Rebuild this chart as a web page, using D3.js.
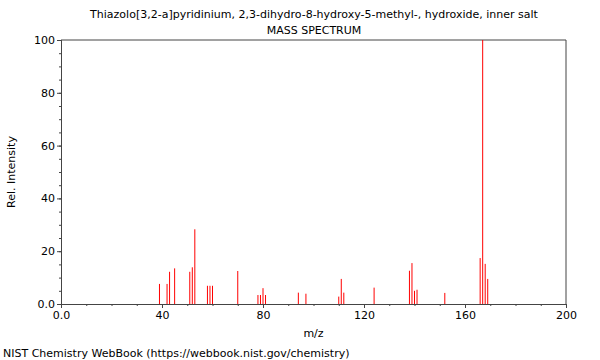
<!DOCTYPE html>
<html>
<head>
<meta charset="utf-8">
<script src="https://cdn.jsdelivr.net/npm/d3@7"></script>
<style>
  body { margin: 0; background: #fff; }
  text { font-family: "DejaVu Sans", sans-serif; fill: #000; }
</style>
</head>
<body>
<div id="chart"></div>
<script>
// peaks
var mz = [39, 42, 43, 45, 51, 52, 53, 58, 59, 60, 70, 78, 79, 80, 81,
  94, 97, 110, 111, 112, 124, 138, 139, 140, 141, 152, 166, 167, 168, 169];
var intensity = [7.6, 7.6, 12.2, 13.5, 12.2, 13.9, 28.3, 6.9, 6.9, 6.9, 12.5, 3.4, 3.4, 6.0, 3.4,
  4.3, 3.9, 2.8, 9.5, 4.3, 6.2, 12.6, 15.5, 5.0, 5.4, 4.2, 17.4, 100, 15.2, 9.5];
var xTicks = [0, 40, 80, 120, 160, 200];
var xTickLabels = ["0.0", "40", "80", "120", "160", "200"];
var yTicks = [0, 20, 40, 60, 80, 100];
var yTickLabels = ["0.0", "20", "40", "60", "80", "100"];

(function() {
  var width = 600,
    height = 360;
  var margin = {left: 61, right: 34, top: 40, bottom: 56};

  var svg = d3.select("#chart")
    .append("svg")
    .attr("width", width)
    .attr("height", height)

  var x = d3.scaleLinear().domain([0, 200]).range([margin.left, width - margin.right])
  var y = d3.scaleLinear().domain([0, 100]).range([height - margin.bottom, margin.top])

  var axisColor = "#444";

  // minor ticks
  var xAxisMinor = d3.axisBottom(x).tickValues(d3.range(0, 201, 10)).tickSize(2).tickFormat("")
  var yAxisMinor = d3.axisLeft(y).tickValues(d3.range(0, 101, 5)).tickSize(2).tickFormat("")

  svg.append("g")
    .attr("transform", "translate(0," + y(0) + ")")
    .call(xAxisMinor)
  svg.append("g")
    .attr("transform", "translate(" + x(0) + ",0)")
    .call(yAxisMinor)

  var xAxis = d3.axisBottom(x).tickValues(xTicks).tickSize(4).tickPadding(3)
    .tickFormat(function(d, i) { return xTickLabels[i]; })
  var yAxis = d3.axisLeft(y).tickValues(yTicks).tickSize(4).tickPadding(2)
    .tickFormat(function(d, i) { return yTickLabels[i]; })

  svg.append("g")
    .attr("transform", "translate(0," + y(0) + ")")
    .call(xAxis)
  svg.append("g")
    .attr("transform", "translate(" + x(0) + ",0)")
    .call(yAxis)

  svg.selectAll(".tick text").attr("font-size", 11).attr("font-family", "DejaVu Sans")
  svg.selectAll(".domain, .tick line").attr("stroke", axisColor)

  // frame top and right
  svg.append("path")
    .attr("d", "M" + x(0) + "," + y(100) + "H" + x(200) + "V" + y(0))
    .attr("fill", "none")
    .attr("stroke", axisColor)

  // peaks
  svg.selectAll(".peak")
    .data(mz)
    .enter().append("line")
    .attr("class", "peak")
    .attr("x1", function(d) { return x(d) })
    .attr("x2", function(d) { return x(d) })
    .attr("y1", y(0))
    .attr("y2", function(d, i) { return y(intensity[i]) })
    .attr("stroke", "#ff0000")
    .attr("stroke-width", 1)

  // texts
  svg.append("text")
    .attr("x", 314).attr("y", 18)
    .attr("text-anchor", "middle").attr("font-size", 11)
    .text("Thiazolo[3,2-a]pyridinium, 2,3-dihydro-8-hydroxy-5-methyl-, hydroxide, inner salt")
  svg.append("text")
    .attr("x", 314).attr("y", 34)
    .attr("text-anchor", "middle").attr("font-size", 11)
    .text("MASS SPECTRUM")
  svg.append("text")
    .attr("transform", "translate(15," + ((y(0) + y(100)) / 2) + ") rotate(-90)")
    .attr("text-anchor", "middle").attr("font-size", 11)
    .text("Rel. Intensity")
  svg.append("text")
    .attr("x", (x(0) + x(200)) / 2).attr("y", 337)
    .attr("text-anchor", "middle").attr("font-size", 11)
    .text("m/z")
  svg.append("text")
    .attr("x", 3).attr("y", 357)
    .attr("font-size", 11)
    .text("NIST Chemistry WebBook (https://webbook.nist.gov/chemistry)")
})();
</script>
</body>
</html>
